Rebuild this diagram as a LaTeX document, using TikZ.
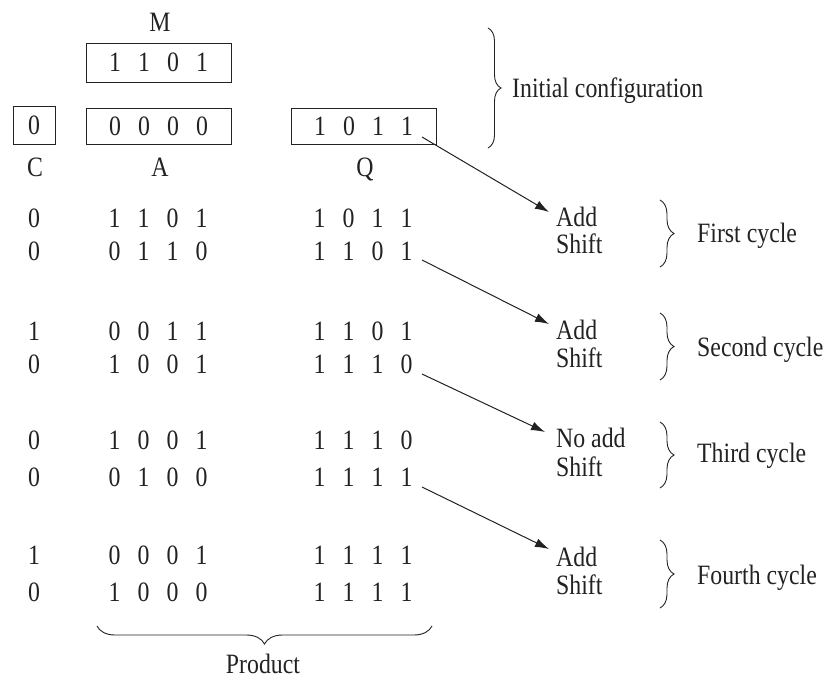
\documentclass[tikz,border=0pt]{standalone}
\usepackage{fontspec}
\setmainfont{Liberation Serif}[FakeStretch=0.85]
\usetikzlibrary{arrows.meta,decorations.pathreplacing}
\newcommand\bits[4]{\makebox[29pt]{#1}\makebox[29pt]{#2}\makebox[29pt]{#3}\makebox[29pt]{#4}}
\definecolor{ink}{HTML}{222222}
\tikzset{
  txt/.style={inner sep=0pt,anchor=base,text=ink},
  txtw/.style={inner sep=0pt,anchor=base west,text=ink},
  reg/.style={draw=ink,line width=0.9pt,inner sep=0pt,text=ink},
  arr/.style={draw=ink,line width=1pt,-{Latex[length=14pt,width=9pt]}},
  brc/.style={draw=ink,line width=0.9pt,decorate,decoration={brace,amplitude=#1}},
}
\begin{document}
\begin{tikzpicture}[x=1pt,y=-1pt,font=\fontsize{28}{32}\selectfont]
\useasboundingbox (0,0) rectangle (825,681);
% registers
\node[txt] (Mlab) at (160,31.5) {M};
\node[reg,minimum width=145pt,minimum height=39pt] (Mbox) at (158.5,62.5) {\bits1101};
\node[reg,minimum width=42pt,minimum height=38pt] (Cbox) at (34,125) {0};
\node[reg,minimum width=145pt,minimum height=36pt] (Abox) at (158.5,126) {\bits0000};
\node[reg,minimum width=145pt,minimum height=36pt] (Qbox) at (363.5,126) {\bits1011};
\node[txt] (Clab) at (35,176) {C};
\node[txt] (Alab) at (160,176) {A};
\node[txt] (Qlab) at (365,176) {Q};
% initial configuration brace
\draw[brc=13pt] (488,28) -- (488,148);
\node[txtw] (init) at (512,97.5) {Initial configuration};
% rows
\node[txt] (c11) at (34,227.5) {0};
\node[txt] (a11) at (158,227.5) {\bits1101};
\node[txt] (q11) at (363,227.5) {\bits1011};
\node[txt] (c12) at (34,260.5) {0};
\node[txt] (a12) at (158,260.5) {\bits0110};
\node[txt] (q12) at (363,260.5) {\bits1101};
\node[txt] (c21) at (34,340.5) {1};
\node[txt] (a21) at (158,340.5) {\bits0011};
\node[txt] (q21) at (363,340.5) {\bits1101};
\node[txt] (c22) at (34,373.5) {0};
\node[txt] (a22) at (158,373.5) {\bits1001};
\node[txt] (q22) at (363,373.5) {\bits1110};
\node[txt] (c31) at (34,449.5) {0};
\node[txt] (a31) at (158,449.5) {\bits1001};
\node[txt] (q31) at (363,449.5) {\bits1110};
\node[txt] (c32) at (34,486.5) {0};
\node[txt] (a32) at (158,486.5) {\bits0100};
\node[txt] (q32) at (363,486.5) {\bits1111};
\node[txt] (c41) at (34,564.5) {1};
\node[txt] (a41) at (158,564.5) {\bits0001};
\node[txt] (q41) at (363,564.5) {\bits1111};
\node[txt] (c42) at (34,601.5) {0};
\node[txt] (a42) at (158,601.5) {\bits1000};
\node[txt] (q42) at (363,601.5) {\bits1111};
% operations
\node[txtw] (add1) at (556,226.5) {Add};
\node[txtw] (sh1) at (556,253.5) {Shift};
\node[txtw] (add2) at (556,339.5) {Add};
\node[txtw] (sh2) at (556,367.5) {Shift};
\node[txtw] (add3) at (556,447.5) {No add};
\node[txtw] (sh3) at (556,476.5) {Shift};
\node[txtw] (add4) at (556,566.5) {Add};
\node[txtw] (sh4) at (556,594.5) {Shift};
% arrows
\coordinate (s1) at (422,137);
\coordinate (e1) at (549,212);
\coordinate (s2) at (422,260);
\coordinate (e2) at (549,324);
\coordinate (s3) at (422,374);
\coordinate (e3) at (545,432);
\coordinate (s4) at (422,487);
\coordinate (e4) at (549,549);
\draw[arr] (s1) -- (e1);
\draw[arr] (s2) -- (e2);
\draw[arr] (s3) -- (e3);
\draw[arr] (s4) -- (e4);
% cycle braces
\draw[brc=14pt] (660,200) -- (660,267);
\node[txtw] (cyc1) at (697,242.5) {First cycle};
\draw[brc=14pt] (660,313) -- (660,380);
\node[txtw] (cyc2) at (697,356.5) {Second cycle};
\draw[brc=14pt] (660,422) -- (660,488);
\node[txtw] (cyc3) at (697,462.5) {Third cycle};
\draw[brc=14pt] (660,540) -- (660,608);
\node[txtw] (cyc4) at (697,584.5) {Fourth cycle};
% product brace
\draw[brc=18pt] (432,626) -- (97,626);
\node[txt] (prod) at (263,673) {Product};
\end{tikzpicture}
\end{document}
